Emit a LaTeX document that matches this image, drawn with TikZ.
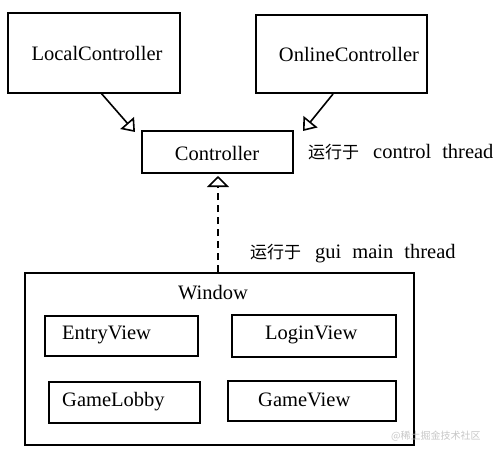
\documentclass[tikz,border=0pt]{standalone}
\usepackage{fontspec}
\setmainfont{Liberation Serif}
\newfontfamily\cjk{Noto Sans CJK SC}
\usetikzlibrary{arrows.meta}
\begin{document}
\begin{tikzpicture}[x=1pt,y=-1pt,
  box/.style={draw,line width=1.9pt,inner sep=0pt},
  lbl/.style={font=\fontsize{20.5}{24}\selectfont,inner sep=0pt},
  inh/.style={line width=1.6pt,-{Triangle[open,width=18pt,length=12pt,line width=1.6pt]}},
  real/.style={line width=1.6pt,-{Triangle[open,width=22pt,length=11pt,line width=1.6pt]}}]
\useasboundingbox (0,0) rectangle (499,455);
% boxes
\draw[box] (8,13) rectangle (180,93);
\node[lbl] (lc) at (97,53) {LocalController};
\draw[box] (256,15) rectangle (427,93);
\node[lbl] (oc) at (349,54) {OnlineController};
\draw[box] (142,131) rectangle (293,173);
\node[lbl] (c) at (217,153) {Controller};
\node[lbl,anchor=west] (t1) at (308,152) {{\cjk\fontsize{17}{20}\selectfont 运行于}\hspace{14pt}control\hspace{11pt}thread};
% window
\draw[box] (25,273) rectangle (414,445);
\node[lbl] (w) at (213,293) {Window};
\draw[box] (45,316) rectangle (198,356);
\node[lbl,anchor=west] (ev) at (62,335) {EntryView};
\draw[box] (232,315) rectangle (396,357);
\node[lbl,anchor=west] (lv) at (265,335) {LoginView};
\draw[box] (49,382) rectangle (200,423);
\node[lbl,anchor=west] (gl) at (62,402) {GameLobby};
\draw[box] (228,381) rectangle (396,421);
\node[lbl,anchor=west] (gv) at (258,400) {GameView};
\node[lbl,anchor=west] (t2) at (250,254) {{\cjk\fontsize{17}{20}\selectfont 运行于}\hspace{14pt}gui\hspace{11pt}main\hspace{11pt}thread};
% connectors
\coordinate (a1) at (101,93);
\coordinate (b1) at (135,132);
\coordinate (a2) at (333,94);
\coordinate (b2) at (303,131);
\coordinate (a3) at (218,272);
\coordinate (b3) at (218,176);
\draw[inh] (a1) -- (b1);
\draw[inh] (a2) -- (b2);
\draw[real,dash pattern=on 7pt off 5pt] (a3) -- (b3);
% watermark
\node[font=\cjk\fontsize{10}{12}\selectfont,text=black!22,anchor=west,inner sep=0pt] (wm) at (391,436) {@稀土掘金技术社区};
\end{tikzpicture}
\end{document}
